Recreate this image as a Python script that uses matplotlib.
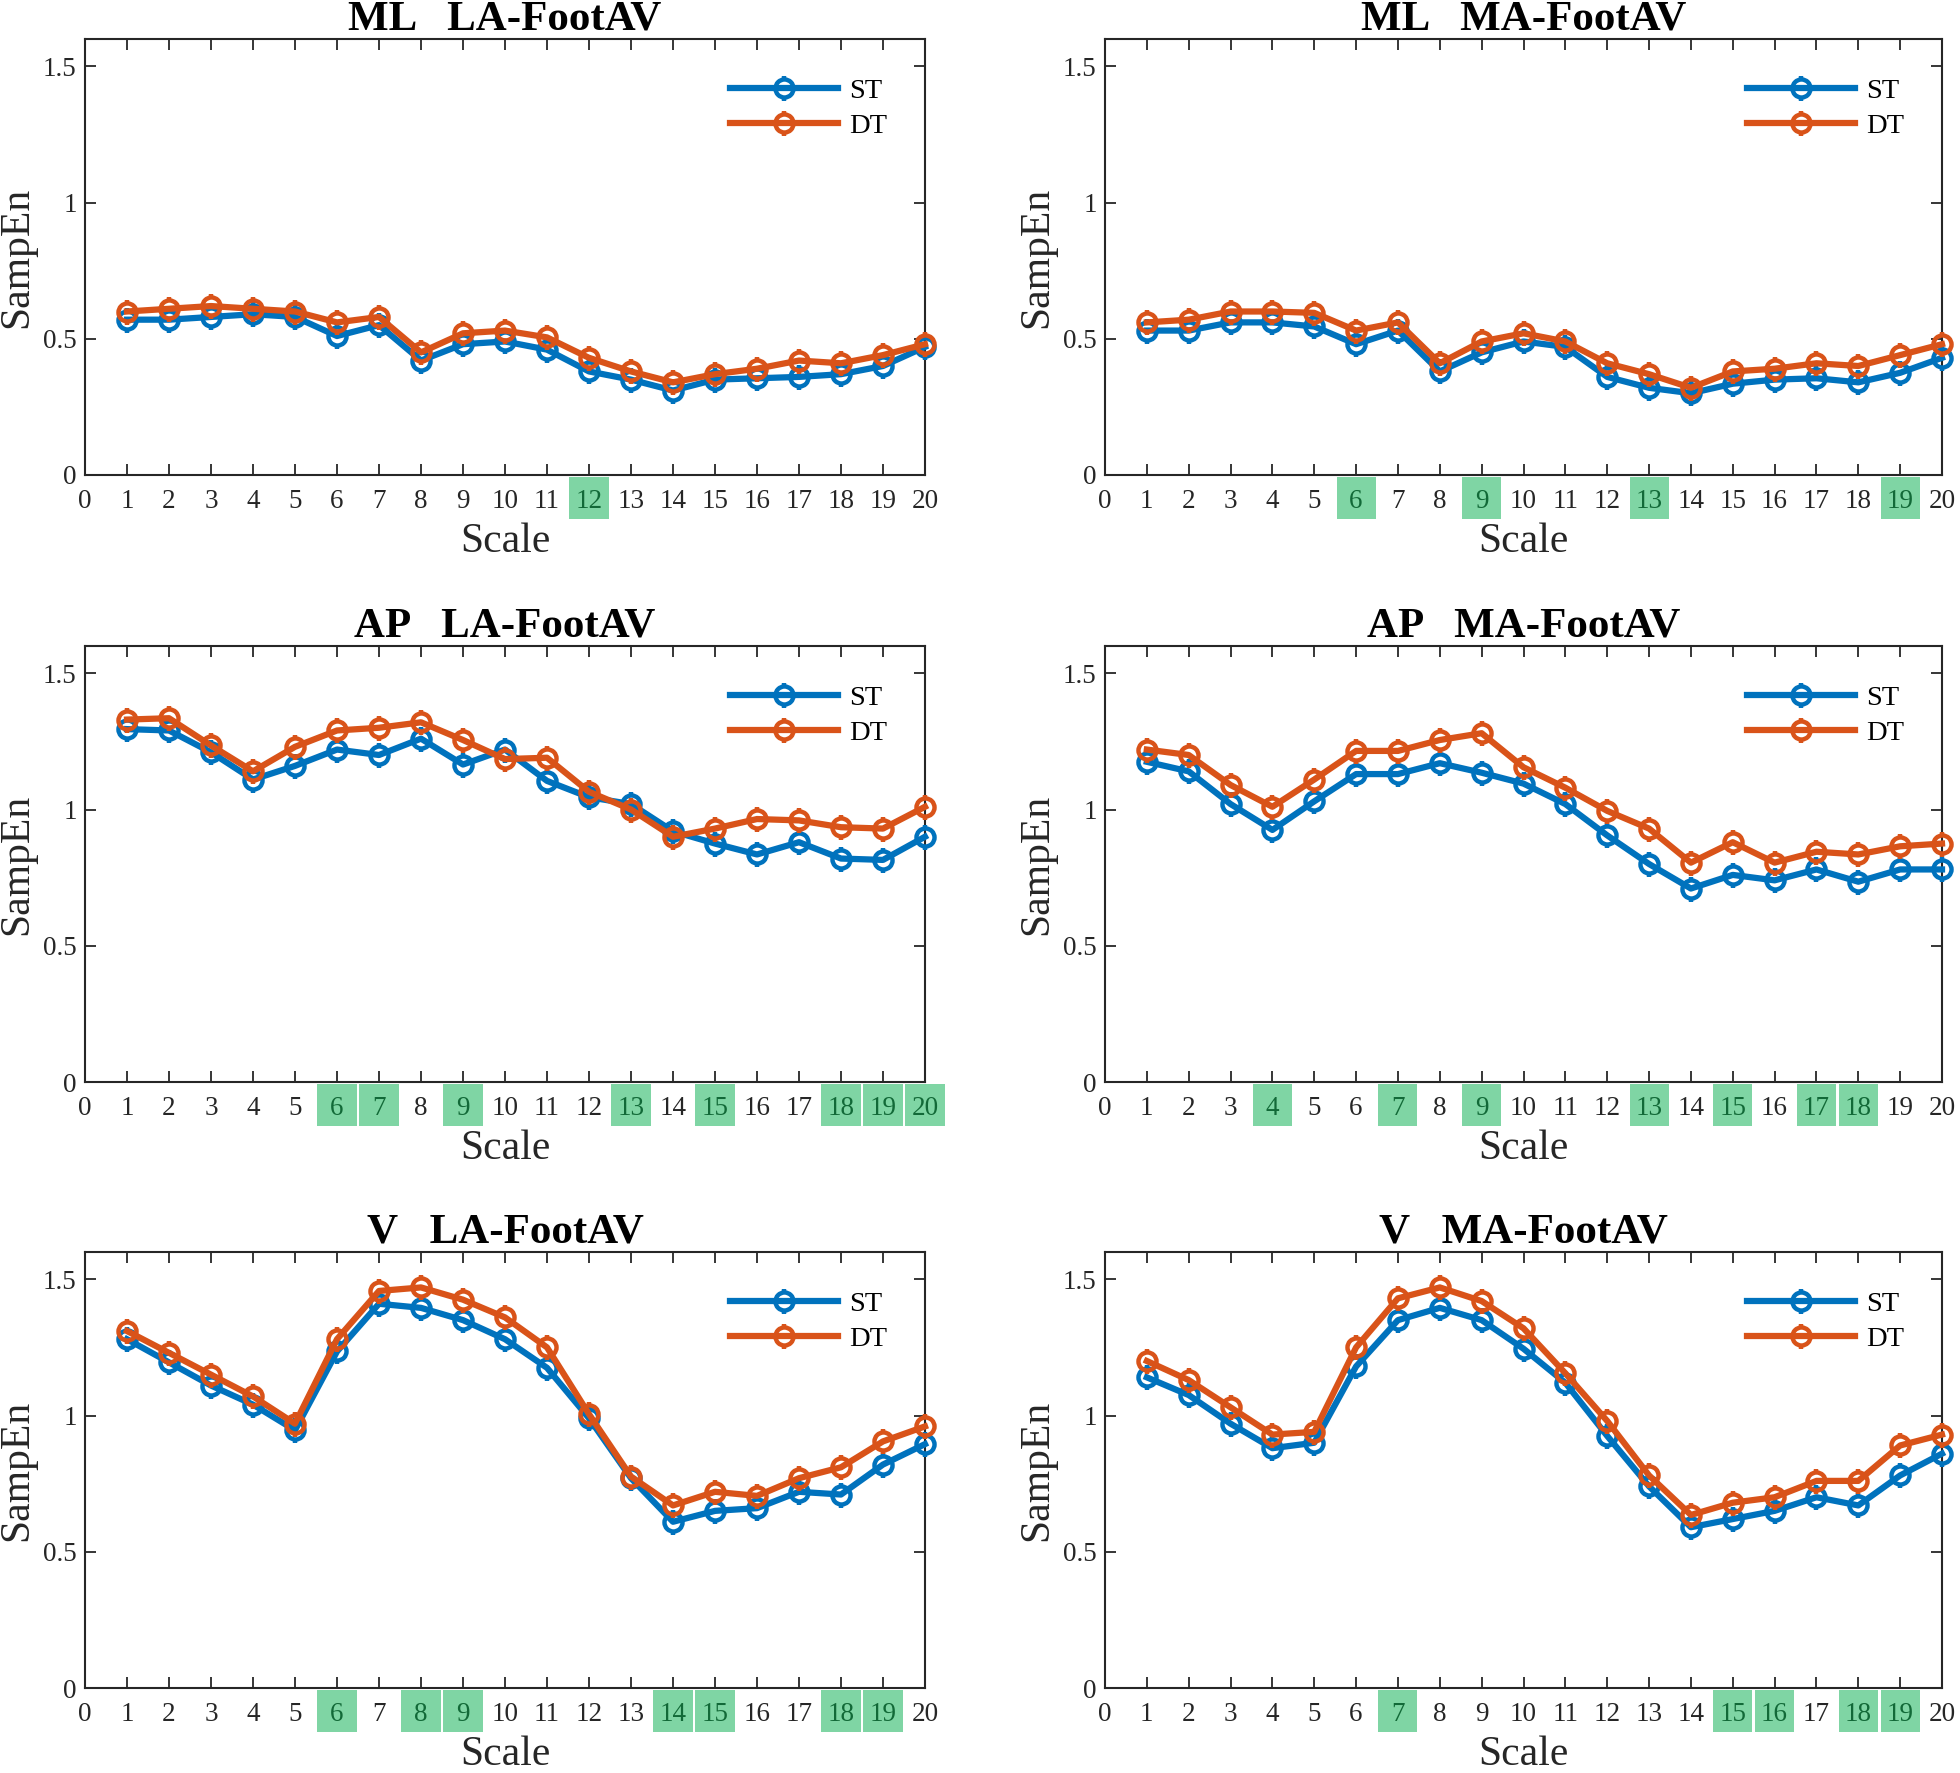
import matplotlib
matplotlib.use("Agg")
import matplotlib.pyplot as plt
from matplotlib.patches import Rectangle
from matplotlib.path import Path
import matplotlib.transforms as mtransforms

plt.rcParams['font.family'] = ['Liberation Serif', 'DejaVu Serif']

scales = list(range(1, 21))

titles = ["ML   LA-FootAV", "ML   MA-FootAV",
          "AP   LA-FootAV", "AP   MA-FootAV",
          "V   LA-FootAV", "V   MA-FootAV"]

st_ml_la = [0.57, 0.57, 0.58, 0.59, 0.58, 0.51, 0.55, 0.42, 0.48, 0.49,
            0.46, 0.38, 0.35, 0.31, 0.35, 0.355, 0.36, 0.37, 0.40, 0.47]
dt_ml_la = [0.60, 0.61, 0.62, 0.61, 0.60, 0.56, 0.58, 0.45, 0.52, 0.53,
            0.505, 0.43, 0.38, 0.34, 0.37, 0.39, 0.42, 0.41, 0.44, 0.48]

st_ml_ma = [0.53, 0.53, 0.56, 0.56, 0.545, 0.48, 0.53, 0.38, 0.45, 0.49,
            0.47, 0.36, 0.32, 0.30, 0.335, 0.35, 0.355, 0.34, 0.375, 0.43]
dt_ml_ma = [0.56, 0.57, 0.60, 0.60, 0.595, 0.53, 0.56, 0.41, 0.49, 0.52,
            0.49, 0.41, 0.37, 0.32, 0.38, 0.39, 0.41, 0.40, 0.44, 0.48]

st_ap_la = [1.295, 1.29, 1.21, 1.11, 1.16, 1.22, 1.20, 1.26, 1.165, 1.22,
            1.105, 1.045, 1.02, 0.92, 0.875, 0.835, 0.88, 0.82, 0.815, 0.90]
dt_ap_la = [1.33, 1.335, 1.235, 1.14, 1.23, 1.29, 1.30, 1.32, 1.255, 1.185,
            1.19, 1.065, 1.00, 0.90, 0.93, 0.965, 0.96, 0.935, 0.93, 1.01]

st_ap_ma = [1.175, 1.14, 1.02, 0.925, 1.03, 1.13, 1.13, 1.17, 1.135, 1.095,
            1.02, 0.905, 0.80, 0.71, 0.76, 0.74, 0.78, 0.735, 0.78, 0.78]
dt_ap_ma = [1.22, 1.20, 1.09, 1.01, 1.11, 1.215, 1.215, 1.255, 1.28, 1.155,
            1.08, 0.995, 0.93, 0.805, 0.88, 0.805, 0.845, 0.835, 0.865, 0.875]

st_v_la = [1.28, 1.195, 1.11, 1.04, 0.946, 1.235, 1.41, 1.395, 1.35, 1.28,
           1.175, 0.99, 0.77, 0.61, 0.65, 0.66, 0.72, 0.71, 0.82, 0.895]
dt_v_la = [1.31, 1.23, 1.15, 1.07, 0.97, 1.28, 1.457, 1.47, 1.425, 1.36,
           1.25, 1.005, 0.776, 0.67, 0.72, 0.705, 0.77, 0.81, 0.905, 0.96]

st_v_ma = [1.14, 1.075, 0.97, 0.88, 0.90, 1.18, 1.35, 1.395, 1.35, 1.245,
           1.12, 0.925, 0.74, 0.59, 0.62, 0.65, 0.70, 0.67, 0.78, 0.86]
dt_v_ma = [1.20, 1.13, 1.03, 0.93, 0.94, 1.25, 1.43, 1.47, 1.42, 1.32,
           1.155, 0.98, 0.78, 0.635, 0.68, 0.70, 0.76, 0.76, 0.89, 0.93]

highlights = [[12], [6, 9, 13, 19],
              [6, 7, 9, 13, 15, 18, 19, 20],
              [4, 7, 9, 13, 15, 17, 18],
              [6, 8, 9, 14, 15, 18, 19],
              [7, 15, 16, 18, 19]]

st_all = [st_ml_la, st_ml_ma, st_ap_la, st_ap_ma, st_v_la, st_v_ma]
dt_all = [dt_ml_la, dt_ml_ma, dt_ap_la, dt_ap_ma, dt_v_la, dt_v_ma]

xticks = list(range(0, 21))
yticks = [0, 0.5, 1, 1.5]
ytick_labels = ["0", "0.5", "1", "1.5"]

c_st = '#0072BD'
c_dt = '#D95319'
c_hl = (0.0, 0.68, 0.29)

# small vertical bumps above/below each circle marker
bump = Path([(0, 0.62), (0, 1.0), (0, -0.62), (0, -1.0)],
            [Path.MOVETO, Path.LINETO, Path.MOVETO, Path.LINETO])

W, H = 1960, 1773
fig = plt.figure(figsize=(W / 100, H / 100), dpi=100)

col_left = [85, 1105]
col_w = [840, 837]
row_top = [39, 646, 1252]
ax_h = 436


def draw_series(ax, y, color, z):
    ln, = ax.plot(scales, y, '-o', color=color, lw=4.5, ms=13, mew=3.2,
                  mfc='none', clip_on=False, zorder=z)
    bm, = ax.plot(scales, y, linestyle='none', marker=bump, color=color,
                  ms=18, mew=3.2, clip_on=False, zorder=z)
    return (ln, bm)


for i in range(6):
    r, c = divmod(i, 2)
    l = col_left[c] / W
    b = 1 - (row_top[r] + ax_h) / H
    ax = fig.add_axes([l, b, col_w[c] / W, ax_h / H])
    h_st = draw_series(ax, st_all[i], c_st, 3)
    h_dt = draw_series(ax, dt_all[i], c_dt, 4)
    ax.set_xlim(0, 20)
    ax.set_ylim(0, 1.6)
    ax.set_xticks(xticks)
    ax.set_xticklabels([str(t) for t in xticks])
    ax.set_yticks(yticks)
    ax.set_yticklabels(ytick_labels)
    ax.tick_params(direction='in', length=8, width=1.3, top=True, right=True,
                   labelsize=19.5, colors='#262626')
    ax.tick_params(axis='x', pad=10)
    ax.tick_params(axis='y', pad=6)
    for sp in ax.spines.values():
        sp.set_linewidth(1.5)
        sp.set_color('#262626')
    ax.set_title(titles[i], fontsize=31, fontweight='bold', pad=7)
    ax.set_xlabel('Scale', fontsize=30, labelpad=6, color='#262626')
    ax.set_ylabel('SampEn', fontsize=30, labelpad=5, color='#262626')
    trans = mtransforms.blended_transform_factory(ax.transData, ax.transAxes)
    for s in highlights[i]:
        rect = Rectangle((s - 0.465, -0.10), 0.93, 0.095, transform=trans,
                         facecolor=c_hl, alpha=0.5, edgecolor='none',
                         clip_on=False, zorder=10)
        ax.add_patch(rect)
    ax.legend([h_st, h_dt], ['ST', 'DT'], loc='upper right',
              bbox_to_anchor=(0.955, 0.91),
              frameon=False, fontsize=20.5, handlelength=3.8,
              handletextpad=0.4, labelspacing=0.3, borderpad=0,
              borderaxespad=0)

fig.savefig('out.png', dpi=100)
